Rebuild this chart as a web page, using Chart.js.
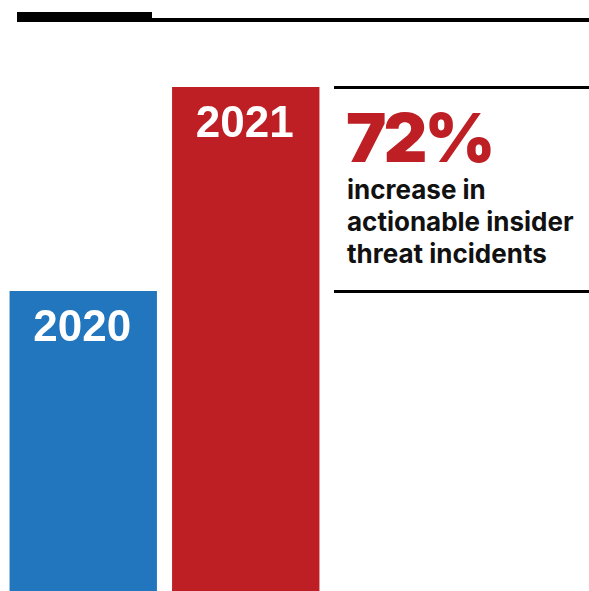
<!DOCTYPE html>
<html>
<head>
<meta charset="utf-8">
<script src="https://cdn.jsdelivr.net/npm/chart.js@4"></script>
<style>
  html, body { margin:0; padding:0; background:#fff; }
  body { width:589px; height:591px; position:relative; overflow:hidden; font-family: Inter, "Noto Sans", sans-serif; }
  #wrap { position:absolute; left:2px; top:0; width:325px; height:591px; }
  .rule { position:absolute; background:#000; }
  #big { position:absolute; left:346px; top:97px; font-family: Inter, sans-serif; font-weight:900; font-size:68px; line-height:80px; color:#be1f25; letter-spacing:-3px; }
  #desc { position:absolute; left:347px; top:174px; font-family: Inter, sans-serif; font-weight:700; font-size:26px; line-height:32px; color:#111; }
</style>
</head>
<body>
<div class="rule" style="left:17px;top:12px;width:135px;height:10px;"></div>
<div class="rule" style="left:152px;top:18px;width:437px;height:4px;"></div>
<div class="rule" style="left:334px;top:86px;width:255px;height:3px;"></div>
<div class="rule" style="left:334px;top:290px;width:255px;height:3px;"></div>
<div id="big">72%</div>
<div id="desc">increase in<br>actionable insider<br>threat incidents</div>
<div id="wrap"><canvas id="c"></canvas></div>
<script>
const categories = ["2020", "2021"];
const values = [100, 168];
const barColors = ["#2176bd", "#be1f25"];
const yMax = 197;

const labelPlugin = {
  id: 'barLabels',
  afterDatasetsDraw(chart) {
    const ctx = chart.ctx;
    const meta = chart.getDatasetMeta(0);
    ctx.save();
    ctx.fillStyle = '#fff';
    ctx.font = 'bold 44px "Liberation Sans", Arial, sans-serif';
    ctx.textAlign = 'center';
    ctx.textBaseline = 'middle';
    meta.data.forEach((bar, i) => {
      ctx.fillText(categories[i], bar.x - 1, bar.y + 38);
    });
    ctx.restore();
  }
};

new Chart(document.getElementById('c'), {
  type: 'bar',
  data: {
    labels: categories,
    datasets: [{ data: values, backgroundColor: barColors, borderWidth: 0, barPercentage: 0.907, categoryPercentage: 1.0 }]
  },
  options: {
    responsive: true,
    maintainAspectRatio: false,
    animation: false,
    layout: { padding: 0 },
    plugins: { legend: { display: false }, tooltip: { enabled: false } },
    scales: {
      x: { display: false },
      y: { display: false, min: 0, max: yMax }
    }
  },
  plugins: [labelPlugin]
});
</script>
</body>
</html>
